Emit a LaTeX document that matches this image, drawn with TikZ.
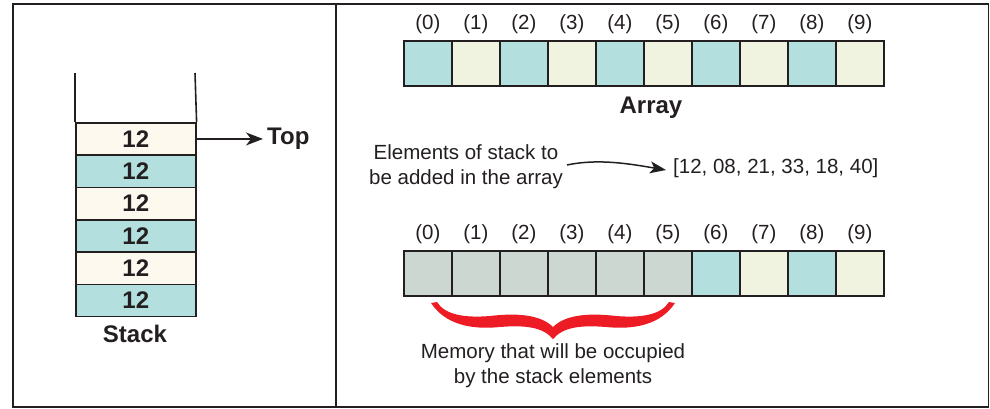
\documentclass[tikz,border=0pt]{standalone}
\usepackage{fontspec}
\setmainfont{Liberation Sans}
\usetikzlibrary{calc}
\definecolor{ink}{HTML}{231F20}
\definecolor{teal}{HTML}{B3DFDF}
\definecolor{cream}{HTML}{FDF9EE}
\definecolor{pale}{HTML}{EFF3E0}
\definecolor{greyc}{HTML}{CDD7D2}
\definecolor{bred}{HTML}{ED1C24}
\tikzset{
  cell/.style={draw=ink, line width=1.6pt, minimum width=48pt, minimum height=45pt, inner sep=0pt, anchor=north west},
  scell/.style={draw=ink, line width=1.6pt, minimum width=120pt, minimum height=32.3pt, inner sep=0pt, anchor=north west,
     font=\fontsize{24}{26}\selectfont\bfseries, text=ink},
  idx/.style={font=\fontsize{20.5}{22}\selectfont, text=ink, inner sep=0pt},
  txt/.style={font=\fontsize{20.5}{25}\selectfont, text=ink, align=center, inner sep=0pt},
  btxt/.style={font=\fontsize{24}{26}\selectfont\bfseries, text=ink, inner sep=0pt},
  conn/.style={draw=ink, line width=1.5pt},
  headfill/.style={fill=ink}
}
\begin{document}
\begin{tikzpicture}[x=1pt,y=-1pt]
\useasboundingbox (0,0) rectangle (990,408);
% frame
\draw[ink, line width=1.8pt] (13,4) rectangle (988.5,407);
\draw[ink, line width=1.8pt] (336,4) -- (336,407);
% stack
\coordinate (sl) at (75,73);
\coordinate (sr) at (195,73);
\foreach \i/\c in {0/cream,1/teal,2/cream,3/teal,4/cream,5/teal}{
  \node[scell, fill=\c] (s\i) at (75,{122+\i*32.3}) {12};
}
\draw[ink, line width=1.6pt] (sl) -- (s0.north west);
\draw[ink, line width=1.6pt] (sr) -- (s0.north east);
\node[btxt] (stk) at (135,334) {Stack};
\node[btxt, anchor=west] (top) at (267,139) {Top};
\coordinate (ttip) at ($(s0.east -| top.west)+(-4,0)$);
\draw[conn] (s0.east) -- ($(ttip)+(-12,0)$);
\fill[headfill] (ttip) -- ++(-17,-6.5) -- ++(5,6.5) -- ++(-5,6.5) -- cycle;
% array 1
\foreach \i/\c in {0/teal,1/pale,2/teal,3/pale,4/teal,5/pale,6/teal,7/pale,8/teal,9/pale}{
  \node[cell, fill=\c] (a\i) at ({403+\i*48},40) {};
  \node[idx, anchor=south] (ai\i) at ($(a\i.north)+(0,-6)$) {(\i)};
}
\node[btxt] (arrlab) at (651,108) {Array};
% middle text
\node[txt] (elem) at (466,167) {Elements of stack to\\be added in the array};
\node[txt, anchor=west] (list) at (673,168) {[12, 08, 21, 33, 18, 40]};
\coordinate (lstart) at (567,165);
\coordinate (ltip) at (666,170);
\draw[conn] (lstart) .. controls (600,158) and (634,164.7) .. (654.2,168);
\fill[headfill] (ltip) -- (649.2,173.3) -- (654.2,168) -- (651.2,161.4) -- cycle;
% array 2
\foreach \i/\c in {0/greyc,1/greyc,2/greyc,3/greyc,4/greyc,5/greyc,6/teal,7/pale,8/teal,9/pale}{
  \node[cell, fill=\c] (b\i) at ({403+\i*48},250) {};
  \node[idx, anchor=south] (bi\i) at ($(b\i.north)+(0,-6)$) {(\i)};
}
% brace
\fill[bred] (431,303) -- (437,302)
  .. controls (445,315) and (465,318) .. (490,316)
  .. controls (515,313) and (540,314) .. (553,327)
  .. controls (566,314) and (591,313) .. (616,316)
  .. controls (641,318) and (661,315) .. (669,302)
  -- (675,303)
  .. controls (661,324) and (636,330) .. (606,327)
  .. controls (581,325) and (563,327) .. (553,339)
  .. controls (543,327) and (525,325) .. (500,327)
  .. controls (470,330) and (445,324) .. cycle;
\node[txt] (mem) at (553,366) {Memory that will be occupied\\by the stack elements};
\end{tikzpicture}
\end{document}
